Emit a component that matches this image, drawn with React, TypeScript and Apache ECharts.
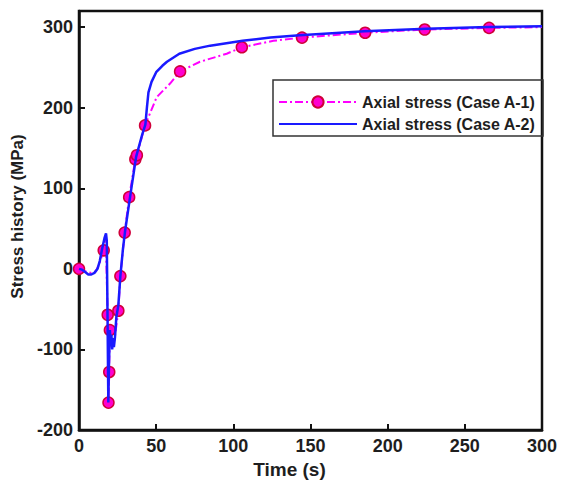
import React, { useEffect, useRef } from "react";
import * as echarts from "echarts";

// Case A-1: [time (s), stress (MPa), hasMarker]
const caseA1: [number, number, boolean][] = [
  [0, 0, true], [4, -3, false], [8, -5, false], [11, -3, false], [13.5, 8, false],
  [16, 23, true], [17.3, 38, false], [18.6, -57, true], [19.6, -128, true],
  [19.1, -166, true], [20, -76, true], [21, -95, false], [23, -88, false],
  [25.5, -52, true], [26.8, -9, true], [29.6, 45, true], [32.5, 89, true],
  [36.5, 136, true], [37.5, 141, true], [42.8, 178, true], [50.3, 213, false],
  [59, 230, false], [65.5, 245, true], [78.4, 257, false], [95.7, 267, false],
  [105.5, 275, true], [126, 283, false], [144.5, 287, true], [185.4, 293, true],
  [224, 297, true], [265.7, 299, true], [300, 300, false],
];

// Case A-2: [time (s), stress (MPa)]
const caseA2: [number, number][] = [
  [0, 0], [2, -1], [4, -4], [6, -7], [8, -7], [10, -5], [12, 0], [13.5, 10],
  [15, 25], [16.5, 38], [17.5, 44], [18, 35], [18.5, -60], [19, -166],
  [19.4, -120], [20, -76], [20.5, -92], [21, -82], [21.5, -100], [22, -86],
  [22.6, -97], [23.3, -85], [24.2, -60], [25.5, -45], [26.8, -9], [28.5, 25],
  [29.8, 46], [33, 88], [37, 139], [41, 167], [43, 179], [44, 200], [45, 219],
  [47, 232], [50, 244], [54, 252], [57, 257], [65, 267], [75, 273], [85, 277],
  [106, 283], [124, 287], [143, 290], [185, 295], [225, 298], [265, 300], [300, 301],
];

const seriesNames = ["Axial stress (Case A-1)", "Axial stress (Case A-2)"];
const xTicks = { min: 0, max: 300, interval: 50 };
const yTicks = { min: -200, max: 320, interval: 100 };

const FONT = "'Liberation Sans', Arial, sans-serif";
const TXT = "#1e1e1e";

export default function App() {
  const ref = useRef<HTMLDivElement>(null);
  useEffect(() => {
    if (!ref.current) return;
    const chart = echarts.init(ref.current, undefined, { renderer: "svg" });
    chart.setOption({
      animation: false,
      backgroundColor: "#ffffff",
      grid: {
        left: 79, right: 20, top: 11, bottom: 52,
        show: true, borderColor: "#111", borderWidth: 2.5,
      },
      legend: {
        orient: "vertical",
        left: 273, top: 80,
        padding: [14, 8, 8, 5],
        itemWidth: 78, itemHeight: 14, itemGap: 6,
        textStyle: { fontFamily: FONT, fontWeight: "bold", fontSize: 16, color: TXT, lineHeight: 14 },
        data: [
          { name: seriesNames[0] },
          { name: seriesNames[1], itemStyle: { opacity: 0 } },
        ],
      },
      graphic: [
        {
          type: "rect",
          shape: { x: 273, y: 80, width: 270, height: 56 },
          style: { fill: "none", stroke: "#333", lineWidth: 1.5 },
          z: 100,
        },
      ],
      xAxis: {
        type: "value",
        min: xTicks.min, max: xTicks.max, interval: xTicks.interval,
        name: "Time (s)",
        nameLocation: "middle",
        nameGap: 30,
        nameTextStyle: { fontFamily: FONT, fontWeight: "bold", fontSize: 19, color: TXT, padding: [0, 42, 0, 0] },
        axisLine: { show: true, onZero: false, lineStyle: { color: "#111", width: 2.5 } },
        axisTick: { show: true, inside: true, length: 6, lineStyle: { color: "#111", width: 2 } },
        axisLabel: { fontFamily: FONT, fontWeight: "bold", fontSize: 18, color: TXT, margin: 7 },
        splitLine: { show: false },
      },
      yAxis: {
        type: "value",
        min: yTicks.min, max: yTicks.max, interval: yTicks.interval,
        name: "Stress history (MPa)",
        nameLocation: "middle",
        nameGap: 36,
        nameTextStyle: { fontFamily: FONT, fontWeight: "bold", fontSize: 17, color: TXT, padding: [0, 0, 0, 8] },
        axisLine: { show: true, onZero: false, lineStyle: { color: "#111", width: 2.5 } },
        axisTick: { show: true, inside: true, length: 6, lineStyle: { color: "#111", width: 2 } },
        axisLabel: {
          fontFamily: FONT, fontWeight: "bold", fontSize: 18, color: TXT, margin: 6,
          showMaxLabel: false,
          formatter: (v: number) => (v > 300 ? "" : String(v)),
        },
        splitLine: { show: false },
      },
      series: [
        {
          name: seriesNames[0],
          type: "line",
          symbol: "circle",
          symbolSize: 11,
          showAllSymbol: true,
          itemStyle: { color: "#ff00d0", borderColor: "#d0003a", borderWidth: 1.5 },
          lineStyle: { color: "#ff00ff", width: 2, type: [8, 3, 2, 3] },
          data: caseA1.map(([x, y, m]) => (m ? { value: [x, y] } : { value: [x, y], symbol: "none" })),
          z: 2,
        },
        {
          name: seriesNames[1],
          type: "line",
          symbol: "none",
          itemStyle: { color: "#1a1aff" },
          lineStyle: { color: "#1a1aff", width: 2.5 },
          data: caseA2,
          z: 3,
        },
      ],
    });
    return () => chart.dispose();
  }, []);
  return (
    <div
      ref={ref}
      style={{ position: "fixed", left: 0, top: 0, width: 562, height: 484, background: "#fff" }}
    />
  );
}
